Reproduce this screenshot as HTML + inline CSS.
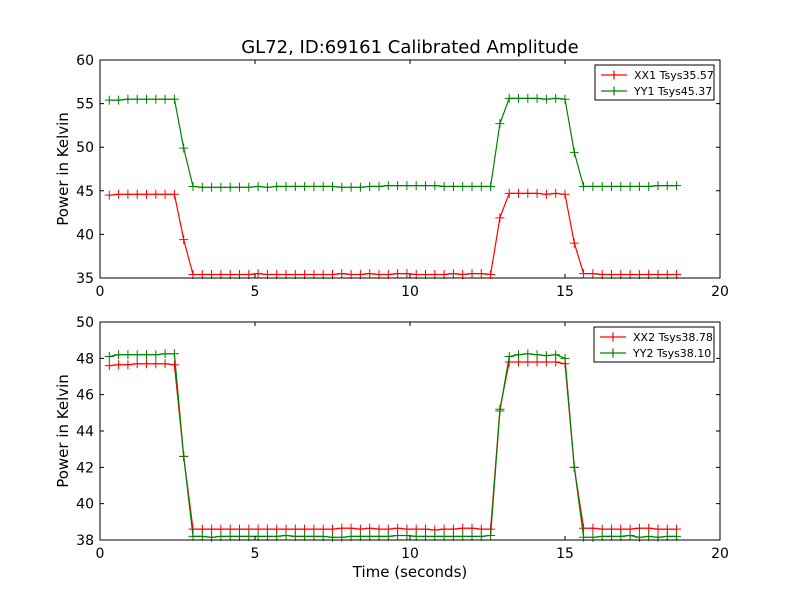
<!DOCTYPE html>
<html><head><meta charset="utf-8"><style>
body{margin:0;background:#fff}
svg{display:block;font-family:"DejaVu Sans","Liberation Sans",sans-serif}
</style></head><body>
<svg id="chart" width="800" height="600" viewBox="0 0 800 600"></svg>
<script>
const times=[0.3,0.6,0.9,1.2,1.5,1.8,2.1,2.4,2.7,3.0,3.3,3.6,3.9,4.2,4.5,4.8,5.1,5.4,5.7,6.0,6.3,6.6,6.9,7.2,7.5,7.8,8.1,8.4,8.7,9.0,9.3,9.6,9.9,10.2,10.5,10.8,11.1,11.4,11.7,12.0,12.3,12.6,12.9,13.2,13.5,13.8,14.1,14.4,14.7,15.0,15.3,15.6,15.9,16.2,16.5,16.8,17.1,17.4,17.7,18.0,18.3,18.6];
const xx1=[44.5,44.6,44.6,44.6,44.6,44.6,44.6,44.6,39.4,35.4,35.4,35.4,35.4,35.4,35.4,35.4,35.5,35.4,35.4,35.4,35.4,35.4,35.4,35.4,35.4,35.5,35.4,35.4,35.5,35.4,35.4,35.5,35.5,35.4,35.4,35.4,35.4,35.5,35.4,35.5,35.5,35.4,41.9,44.7,44.7,44.7,44.7,44.6,44.7,44.6,39.0,35.5,35.5,35.4,35.4,35.4,35.4,35.4,35.4,35.4,35.4,35.4];
const yy1=[55.4,55.4,55.5,55.5,55.5,55.5,55.5,55.5,49.9,45.5,45.4,45.4,45.4,45.4,45.4,45.4,45.5,45.4,45.5,45.5,45.5,45.5,45.5,45.5,45.5,45.4,45.4,45.4,45.5,45.5,45.6,45.6,45.6,45.6,45.6,45.6,45.5,45.5,45.5,45.5,45.5,45.5,52.7,55.6,55.6,55.6,55.6,55.5,55.6,55.5,49.4,45.5,45.5,45.5,45.5,45.5,45.5,45.5,45.5,45.6,45.6,45.6];
const xx2=[47.6,47.65,47.65,47.7,47.7,47.7,47.7,47.65,42.6,38.6,38.6,38.6,38.6,38.6,38.6,38.6,38.6,38.6,38.6,38.6,38.6,38.6,38.6,38.6,38.6,38.65,38.65,38.6,38.65,38.6,38.6,38.65,38.6,38.6,38.6,38.55,38.6,38.6,38.65,38.65,38.6,38.6,45.2,47.8,47.8,47.8,47.8,47.8,47.8,47.7,42.0,38.65,38.65,38.6,38.6,38.6,38.6,38.65,38.65,38.6,38.6,38.6];
const yy2=[48.1,48.2,48.2,48.2,48.2,48.2,48.25,48.25,42.6,38.2,38.2,38.15,38.2,38.2,38.2,38.2,38.2,38.2,38.2,38.25,38.2,38.2,38.2,38.2,38.15,38.15,38.2,38.2,38.2,38.2,38.2,38.25,38.25,38.2,38.2,38.2,38.2,38.2,38.2,38.2,38.2,38.25,45.1,48.1,48.2,48.25,48.2,48.15,48.2,48.0,42.0,38.15,38.15,38.2,38.2,38.2,38.25,38.15,38.2,38.15,38.2,38.2];
const xTicks=[0,5,10,15,20];
const yTicksTop=[35,40,45,50,55,60];
const yTicksBot=[38,40,42,44,46,48,50];
const legTop=["XX1 Tsys35.57","YY1 Tsys45.37"];
const legBot=["XX2 Tsys38.78","YY2 Tsys38.10"];

const NS="http://www.w3.org/2000/svg";
const svg=document.getElementById('chart');
function mk(tag,attrs,parent,text){const e=document.createElementNS(NS,tag);for(const k in attrs)e.setAttribute(k,attrs[k]);if(text!==undefined)e.textContent=text;(parent||svg).appendChild(e);return e;}
const X0=100,X1=720;
const xs=t=>X0+(t-0)/(20-0)*(X1-X0);

function panel(id,top,bot,ymin,ymax,yt,series,legend,legBox,showX){
  const g=mk('g',{});
  
  
  const ys=v=>bot-(v-ymin)/(ymax-ymin)*(bot-top);
  const colors=['#ff0000','#008000'];
  series.forEach((s,si)=>{
    const pts=times.map((t,i)=>xs(t).toFixed(1)+','+ys(s[i]).toFixed(1)).join(' ');
    const pl=mk('polyline',{points:pts,fill:'none',stroke:colors[si],'stroke-width':1.2},g);
    
    
    times.forEach((t,i)=>{
      const x=xs(t),y=ys(s[i]);
      const m=mk('path',{d:`M${x-4.5},${y}H${x+4.5}M${x},${y-4.5}V${y+4.5}`,stroke:colors[si],'stroke-width':1},g);
      
      
    });
  });
  const fr=mk('rect',{x:X0,y:top,width:X1-X0,height:bot-top,fill:'none',stroke:'#000','stroke-width':1},g);
  
  
  xTicks.forEach(t=>{
    const x=xs(t);
    mk('path',{d:`M${x},${bot}v-4M${x},${top}v4`,stroke:'#000'},g);
    if(showX||true){
      const l=mk('text',{x:x,y:bot+18,'text-anchor':'middle','font-size':14},g,String(t));
      
      
    }
  });
  yt.forEach(v=>{
    const y=ys(v);
    mk('path',{d:`M${X0},${y}h4M${X1},${y}h-4`,stroke:'#000'},g);
    const l=mk('text',{x:X0-6,y:y+5,'text-anchor':'end','font-size':14},g,String(v));
    
    
  });
  const yl=mk('text',{x:0,y:0,transform:`translate(68,${(top+bot)/2}) rotate(-90)`,'text-anchor':'middle','font-size':15},g,'Power in Kelvin');
  
  
  const lg=mk('g',{},g);
  
  
  mk('rect',{x:legBox[0],y:legBox[1],width:legBox[2],height:35,fill:'#fff',stroke:'#000'},lg);
  legend.forEach((txt,i)=>{
    const y=legBox[1]+10+i*16;
    const x=legBox[0]+6;
    mk('path',{d:`M${x},${y}h26M${x+13},${y-4.5}v9`,stroke:colors[i],'stroke-width':1.2},lg);
    const t=mk('text',{x:x+33,y:y+4,'font-size':11},lg,txt);
    
    
  });
}
const title=mk('text',{x:410,y:53,'text-anchor':'middle','font-size':18},svg,'GL72, ID:69161 Calibrated Amplitude');


panel('top-panel',60,278,35,60,yTicksTop,[xx1,yy1],legTop,[595,65,119],true);
panel('bottom-panel',322,540,38,50,yTicksBot,[xx2,yy2],legBot,[594,327,120],true);
const xl=mk('text',{x:410,y:577,'text-anchor':'middle','font-size':15},svg,'Time (seconds)');


</script>
</body></html>
